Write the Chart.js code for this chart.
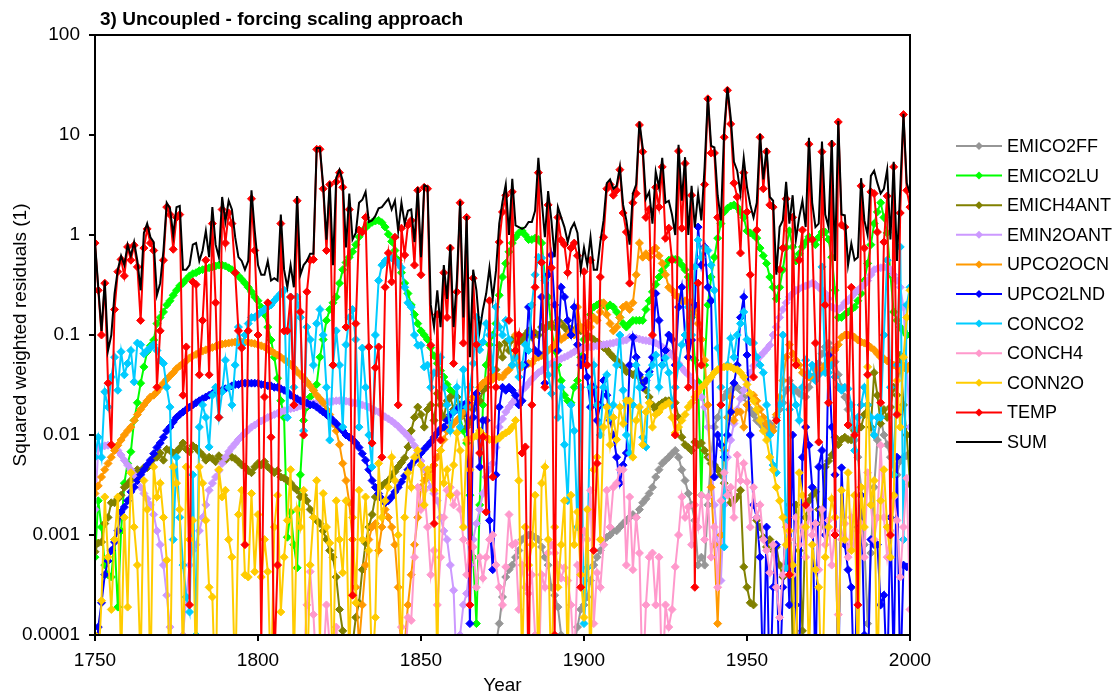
<!DOCTYPE html>
<html>
<head>
<meta charset="utf-8">
<title>Uncoupled - forcing scaling approach</title>
<script src="https://cdn.jsdelivr.net/npm/chart.js@4.4.1/dist/chart.umd.min.js"></script>
<style>
  html, body { margin: 0; padding: 0; background: #fff; }
  #wrap { width: 1120px; height: 700px; }
</style>
</head>
<body>
<div id="wrap"><canvas id="residualsChart" width="1120" height="700"></canvas></div>
<script>
// yearly squared weighted residuals, 1750-2000
const FIRST_YEAR = 1750;
const xTicks = [1750, 1800, 1850, 1900, 1950, 2000];
const yTicks = [0.0001, 0.001, 0.01, 0.1, 1, 10, 100];

// EMICO2FF only rises above the axis floor from 1872 on
const emico2ffStart = 1872;
const emico2ff = [
  0.00003, 0.00008, 0.00013, 0.00024, 0.00038, 0.00045, 0.0005, 0.0006,
  0.0007, 0.0009, 0.00095, 0.001, 0.001, 0.00095, 0.0009, 0.00076, 0.0006, 0.0005,
  0.0003, 0.00025, 0.00019, 0.0001, 0.00006, 0.00004, 0.00005, 0.00008, 0.00012, 0.00018,
  0.0002, 0.00024, 0.00035, 0.0005, 0.0006, 0.0007, 0.0008, 0.00095, 0.001, 0.0011,
  0.0011, 0.0012, 0.0013, 0.0014, 0.0015, 0.0016, 0.0015, 0.0018, 0.0021, 0.0023,
  0.0026, 0.003, 0.0038, 0.0045, 0.0052, 0.0056, 0.006, 0.0065, 0.007, 0.006,
  0.0045, 0.0035, 0.0026, 0.002, 0.0014, 0.0005, 0.0006, 0.0005, 0.002, 0.006,
  0.012, 0.015, 0.02, 0.024, 0.027, 0.028, 0.03, 0.03, 0.028, 0.024,
  0.02, 0.018, 0.016, 0.014, 0.013, 0.012, 0.011, 0.013, 0.012, 0.015,
  0.018, 0.021, 0.028, 0.035, 0.03, 0.028, 0.026, 0.025, 0.024, 0.03,
  0.038, 0.045, 0.052, 0.065, 0.076, 0.083, 0.07, 0.054, 0.04, 0.03,
  0.024, 0.018, 0.012, 0.0089, 0.006, 0.003, 0.0008, 0.00013, 0.00066, 0.003,
  0.0089, 0.015, 0.01, 0.008, 0.006, 0.005, 0.004, 0.0055, 0.006, 0.0062,
  0.0066
];

const emico2lu = [
  0.0006, 0.0022, 0.0012, 0.0005, 0.0004, 0.00038, 0.0009, 0.00019, 0.0011, 0.0033,
  0.0052, 0.0068, 0.014, 0.021, 0.033, 0.048, 0.068, 0.078, 0.089, 0.13,
  0.15, 0.17, 0.2, 0.22, 0.25, 0.28, 0.31, 0.33, 0.36, 0.39,
  0.41, 0.42, 0.44, 0.45, 0.46, 0.47, 0.48, 0.49, 0.5, 0.5,
  0.49, 0.47, 0.45, 0.42, 0.39, 0.36, 0.33, 0.3, 0.27, 0.24,
  0.22, 0.19, 0.16, 0.12, 0.089, 0.06, 0.037, 0.022, 0.015, 0.00095,
  0.0017, 0.0008, 0.00047, 0.004, 0.014, 0.019, 0.024, 0.028, 0.032, 0.06,
  0.09, 0.14, 0.18, 0.21, 0.24, 0.33, 0.45, 0.53, 0.6, 0.68,
  0.8, 0.96, 1.08, 1.18, 1.27, 1.34, 1.38, 1.4, 1.33, 1.2,
  1.02, 0.86, 0.7, 0.56, 0.42, 0.33, 0.26, 0.2, 0.16, 0.13,
  0.11, 0.1, 0.09, 0.075, 0.062, 0.052, 0.044, 0.038, 0.032, 0.028,
  0.026, 0.024, 0.015, 0.011, 0.0083, 0.0025, 0.0006, 0.00013, 0.002, 0.02,
  0.05, 0.08, 0.1, 0.13, 0.25, 0.38, 0.52, 0.68, 0.83, 0.95,
  1.05, 1.1, 1.0, 0.9, 0.9, 0.93, 0.9, 0.83, 0.38, 0.24,
  0.12, 0.07, 0.05, 0.035, 0.025, 0.022, 0.021, 0.03, 0.035, 0.06,
  0.09, 0.13, 0.16, 0.19, 0.2, 0.21, 0.2, 0.19, 0.2, 0.19,
  0.17, 0.15, 0.13, 0.12, 0.13, 0.14, 0.14, 0.14, 0.14, 0.18,
  0.22, 0.27, 0.32, 0.38, 0.44, 0.5, 0.56, 0.58, 0.57, 0.56,
  0.5, 0.45, 0.38, 0.15, 0.056, 0.034, 0.0025, 0.05, 0.2, 0.38,
  0.6, 0.93, 1.3, 1.7, 1.85, 1.95, 2.0, 1.9, 1.7, 1.5,
  1.1, 1.05, 1.0, 0.93, 0.74, 0.62, 0.52, 0.38, 0.3, 0.23,
  0.3, 0.45, 0.75, 1.1, 0.76, 0.55, 0.65, 0.76, 0.85, 0.96,
  0.9, 0.8, 0.95, 1.07, 1.07, 0.9, 0.6, 0.28, 0.15, 0.15,
  0.16, 0.17, 0.18, 0.19, 0.22, 0.26, 0.35, 0.52, 0.8, 1.3,
  1.7, 2.1, 1.5, 1.05, 0.4, 0.17, 0.14, 0.12, 0.11, 0.1,
  0.1
];

const emich4ant = [
  0.00068, 0.00083, 0.00085, 0.0013, 0.0015, 0.0021, 0.0021, 0.0023, 0.0025, 0.003,
  0.0032, 0.0035, 0.0038, 0.0045, 0.0042, 0.0047, 0.0047, 0.0052, 0.0058, 0.006,
  0.0066, 0.0056, 0.0072, 0.007, 0.0066, 0.0068, 0.0074, 0.0083, 0.0072, 0.0068,
  0.0078, 0.0074, 0.0068, 0.0063, 0.0056, 0.006, 0.0058, 0.0054, 0.0062, 0.0058,
  0.0056, 0.0062, 0.006, 0.0058, 0.0054, 0.005, 0.0048, 0.0044, 0.0042, 0.0048,
  0.0052, 0.005, 0.0054, 0.0048, 0.0045, 0.0042, 0.0044, 0.0038, 0.0037, 0.0035,
  0.0033, 0.003, 0.0028, 0.0024, 0.0025, 0.0022, 0.0018, 0.0015, 0.0014, 0.0013,
  0.0011, 0.0009, 0.0007, 0.0006, 0.00038, 0.00018, 0.00011, 0.00004, 0.00002, 0.00008,
  0.00015, 0.00021, 0.00045, 0.00083, 0.0012, 0.0016, 0.0024, 0.003, 0.0031, 0.0033,
  0.0035, 0.0038, 0.0043, 0.0048, 0.0053, 0.0059, 0.0076, 0.011, 0.015, 0.019,
  0.016, 0.012, 0.018, 0.02, 0.014, 0.026, 0.02, 0.015, 0.022, 0.024,
  0.018, 0.024, 0.02, 0.016, 0.012, 0.0135, 0.018, 0.025, 0.022, 0.028,
  0.03, 0.035, 0.04, 0.045, 0.079, 0.06, 0.085, 0.07, 0.09, 0.095,
  0.085, 0.09, 0.1, 0.11, 0.095, 0.105, 0.1, 0.12, 0.115, 0.125,
  0.13, 0.12, 0.14, 0.13, 0.12, 0.11, 0.115, 0.105, 0.12, 0.11,
  0.12, 0.1, 0.095, 0.09, 0.085, 0.08, 0.075, 0.071, 0.065, 0.06,
  0.056, 0.052, 0.048, 0.043, 0.042, 0.04, 0.042, 0.038, 0.033, 0.028,
  0.024, 0.02, 0.018, 0.02, 0.021, 0.022, 0.022, 0.021, 0.021, 0.015,
  0.0095, 0.008, 0.0075, 0.007, 0.0085, 0.008, 0.0083, 0.007, 0.006, 0.0052,
  0.005, 0.0045, 0.004, 0.0033, 0.0026, 0.0021, 0.0022, 0.0024, 0.0028, 0.00048,
  0.0003, 0.00021, 0.0002, 0.0014, 0.0012, 0.00095, 0.00076, 0.0009, 0.0007, 0.00076,
  0.0005, 0.00038, 0.0012, 0.002, 0.00008, 0.002, 0.0007, 0.00011, 0.0015, 0.0022,
  0.0025, 0.0027, 0.0018, 0.0013, 0.0048, 0.0055, 0.0063, 0.0095, 0.008, 0.009,
  0.0095, 0.009, 0.0089, 0.011, 0.0115, 0.012, 0.016, 0.02, 0.012, 0.042,
  0.025, 0.013, 0.018, 0.015, 0.019, 0.03, 0.025, 0.063, 0.02, 0.01,
  0.0032
];

const emin2oant = [
  0.0018, 0.0074, 0.0076, 0.0078, 0.0079, 0.0079, 0.0075, 0.007, 0.0063, 0.0056,
  0.005, 0.0045, 0.004, 0.0035, 0.003, 0.0026, 0.0023, 0.002, 0.0016, 0.0011,
  0.0008, 0.0005, 0.00025, 0.00012, 0.00005, 0.00003, 0.00005, 0.0001, 0.00024, 0.0005,
  0.0007, 0.0008, 0.0011, 0.0015, 0.002, 0.0028, 0.0033, 0.0038, 0.0044, 0.0052,
  0.006, 0.0068, 0.0075, 0.0082, 0.009, 0.0097, 0.0105, 0.0112, 0.012, 0.0126,
  0.0132, 0.0138, 0.0144, 0.015, 0.0155, 0.016, 0.0165, 0.017, 0.0175, 0.018,
  0.0183, 0.0186, 0.019, 0.0195, 0.02, 0.0202, 0.0205, 0.0207, 0.021, 0.021,
  0.021, 0.0213, 0.0215, 0.0217, 0.022, 0.022, 0.022, 0.0218, 0.0215, 0.021,
  0.0208, 0.0205, 0.02, 0.0195, 0.019, 0.018, 0.0175, 0.017, 0.016, 0.0152,
  0.0145, 0.0138, 0.013, 0.0122, 0.0113, 0.0105, 0.0097, 0.0089, 0.0078, 0.0066,
  0.0055, 0.0045, 0.0037, 0.003, 0.0026, 0.0022, 0.0015, 0.0011, 0.0009, 0.0005,
  0.00028, 0.00004, 0.0001, 0.0002, 0.00026, 0.0005, 0.0009, 0.0013, 0.0018, 0.0026,
  0.0038, 0.0045, 0.0052, 0.0075, 0.012, 0.0145, 0.017, 0.019, 0.021, 0.023,
  0.025, 0.028, 0.03, 0.033, 0.036, 0.039, 0.042, 0.044, 0.047, 0.05,
  0.052, 0.054, 0.056, 0.058, 0.06, 0.062, 0.065, 0.068, 0.071, 0.073,
  0.074, 0.075, 0.076, 0.077, 0.078, 0.079, 0.08, 0.081, 0.082, 0.083,
  0.085, 0.086, 0.088, 0.089, 0.095, 0.094, 0.093, 0.091, 0.089, 0.088,
  0.087, 0.085, 0.083, 0.08, 0.076, 0.072, 0.068, 0.063, 0.058, 0.052,
  0.047, 0.043, 0.04, 0.035, 0.032, 0.029, 0.024, 0.019, 0.012, 0.006,
  0.002, 0.0008, 0.00035, 0.002, 0.006, 0.0089, 0.013, 0.018, 0.023, 0.028,
  0.035, 0.042, 0.049, 0.056, 0.061, 0.066, 0.072, 0.079, 0.1, 0.12,
  0.15, 0.18, 0.21, 0.24, 0.26, 0.28, 0.29, 0.3, 0.31, 0.32,
  0.33, 0.32, 0.3, 0.28, 0.26, 0.23, 0.19, 0.185, 0.18, 0.19,
  0.21, 0.22, 0.24, 0.26, 0.28, 0.3, 0.32, 0.35, 0.4, 0.45,
  0.46, 0.47, 0.48, 0.47, 0.45, 0.4, 0.35, 0.3, 0.19, 0.05,
  0.012
];

const upco2ocn = [
  0.0026, 0.0031, 0.0038, 0.0045, 0.0052, 0.006, 0.007, 0.0079, 0.0089, 0.01,
  0.011, 0.012, 0.014, 0.016, 0.018, 0.02, 0.022, 0.024, 0.025, 0.027,
  0.03, 0.033, 0.036, 0.039, 0.042, 0.046, 0.049, 0.052, 0.055, 0.059,
  0.062, 0.064, 0.067, 0.069, 0.071, 0.073, 0.075, 0.077, 0.079, 0.081,
  0.082, 0.083, 0.084, 0.085, 0.085, 0.085, 0.085, 0.084, 0.083, 0.082,
  0.08, 0.078, 0.076, 0.072, 0.069, 0.066, 0.063, 0.06, 0.057, 0.054,
  0.051, 0.047, 0.043, 0.04, 0.037, 0.034, 0.031, 0.028, 0.025, 0.023,
  0.021, 0.018, 0.016, 0.013, 0.011, 0.008, 0.0052, 0.0035, 0.0021, 0.0009,
  0.0003, 0.00008, 0.0002, 0.0005, 0.0009, 0.0012, 0.0013, 0.0007, 0.0012, 0.0018,
  0.0015, 0.0012, 0.0008, 0.0003, 0.00005, 0.00008, 0.0002, 0.0004, 0.0008, 0.0015,
  0.003, 0.0035, 0.004, 0.0045, 0.005, 0.006, 0.007, 0.009, 0.011, 0.012,
  0.013, 0.014, 0.015, 0.017, 0.019, 0.021, 0.024, 0.026, 0.03, 0.033,
  0.035, 0.037, 0.036, 0.04, 0.038, 0.038, 0.042, 0.045, 0.05, 0.1,
  0.05, 0.048, 0.05, 0.052, 0.052, 0.058, 0.06, 0.062, 0.066, 0.07,
  0.074, 0.08, 0.13, 0.09, 0.095, 0.1, 0.11, 0.1, 0.19, 0.12,
  0.11, 0.13, 0.12, 0.15, 0.14, 0.17, 0.21, 0.16, 0.13, 0.11,
  0.12, 0.15, 0.19, 0.2, 0.18, 0.21, 0.4, 0.83, 0.6, 0.65,
  0.6, 0.7, 0.74, 0.62, 0.52, 0.4, 0.3, 0.28, 0.25, 0.24,
  0.22, 0.22, 0.21, 0.21, 0.18, 0.13, 0.09, 0.056, 0.02, 0.003,
  0.0008, 0.00013, 0.001, 0.007, 0.015, 0.024, 0.014, 0.017, 0.017, 0.012,
  0.02, 0.025, 0.025, 0.022, 0.018, 0.015, 0.013, 0.012, 0.011, 0.016,
  0.024, 0.035, 0.06, 0.08, 0.065, 0.056, 0.05, 0.042, 0.04, 0.038,
  0.038, 0.04, 0.045, 0.045, 0.05, 0.055, 0.06, 0.071, 0.08, 0.095,
  0.1, 0.1, 0.1, 0.095, 0.089, 0.085, 0.083, 0.08, 0.075, 0.071,
  0.065, 0.06, 0.058, 0.055, 0.052, 0.05, 0.048, 0.045, 0.05, 0.045,
  0.05
];

const upco2lnd = [
  0.00003, 0.00012, 0.00021, 0.0004, 0.00055, 0.0007, 0.00085, 0.0011, 0.0017, 0.0019,
  0.0022, 0.0027, 0.003, 0.0035, 0.004, 0.0045, 0.005, 0.0056, 0.0065, 0.0075,
  0.0083, 0.0095, 0.011, 0.012, 0.0135, 0.015, 0.016, 0.017, 0.018, 0.019,
  0.02, 0.021, 0.022, 0.023, 0.024, 0.025, 0.026, 0.027, 0.0275, 0.028,
  0.029, 0.03, 0.031, 0.032, 0.032, 0.033, 0.033, 0.033, 0.033, 0.033,
  0.033, 0.032, 0.032, 0.031, 0.031, 0.03, 0.03, 0.029, 0.028, 0.027,
  0.025, 0.024, 0.023, 0.022, 0.021, 0.021, 0.02, 0.02, 0.019, 0.018,
  0.017, 0.016, 0.015, 0.014, 0.013, 0.012, 0.011, 0.01, 0.0095, 0.009,
  0.0083, 0.0075, 0.0065, 0.0056, 0.0045, 0.0035, 0.003, 0.0026, 0.0023, 0.0021,
  0.0022, 0.0024, 0.0027, 0.003, 0.0034, 0.0039, 0.0045, 0.005, 0.0055, 0.006,
  0.0066, 0.0072, 0.0078, 0.0085, 0.0095, 0.0105, 0.0115, 0.012, 0.014, 0.016,
  0.017, 0.018, 0.019, 0.02, 0.021, 0.00013, 0.015, 0.026, 0.0048, 0.014,
  0.014, 0.0014, 0.00045, 0.004, 0.019, 0.03, 0.028, 0.03, 0.028, 0.025,
  0.02, 0.022, 0.05, 0.19, 0.1, 0.07, 0.066, 0.24, 0.033, 0.4,
  0.63, 0.2, 0.07, 0.3, 0.24, 0.14, 0.1, 0.19, 0.08, 0.05,
  0.06, 0.038, 0.019, 0.03, 0.014, 0.02, 0.035, 0.025, 0.014, 0.01,
  0.006, 0.0033, 0.005, 0.0066, 0.05, 0.095, 0.06, 0.04, 0.03, 0.035,
  0.043, 0.06, 0.26, 0.14, 0.05, 0.07, 0.1, 0.09, 0.05, 0.19,
  0.3, 0.1, 0.06, 0.089, 0.2, 1.2, 0.5, 0.76, 0.3, 0.22,
  0.0038, 0.01, 0.008, 0.006, 0.01, 0.017, 0.033, 0.05, 0.15, 0.24,
  0.063, 0.01, 0.002, 0.0015, 0.0006, 0.00003, 0.0012, 0.00002, 0.0003, 0.0008,
  0.00003, 0.0003, 0.0015, 0.0002, 0.01, 0.0002, 0.00004, 0.006, 0.012, 0.0079,
  0.003, 0.00003, 0.0048, 0.007, 0.001, 0.063, 0.012, 0.004, 0.00003, 0.0047,
  0.0008, 0.00045, 0.0003, 0.00002, 0.0012, 0.0025, 0.0001, 0.00003, 0.0009, 0.0008,
  0.0008, 0.0002, 0.00025, 0.00003, 0.0015, 0.00005, 0.006, 0.00003, 0.0005, 0.00048,
  0.0005
];

const conco2 = [
  0.006, 0.0095, 0.006, 0.027, 0.019, 0.038, 0.06, 0.028, 0.068, 0.04,
  0.052, 0.07, 0.034, 0.083, 0.08, 0.065, 0.07, 0.075, 0.08, 0.07,
  0.056, 0.052, 0.03, 0.019, 0.0009, 0.006, 0.0015, 0.0005, 0.00024, 0.00017,
  0.004, 0.0001, 0.012, 0.02, 0.015, 0.0076, 0.025, 0.03, 0.015, 0.027,
  0.056, 0.03, 0.02, 0.05, 0.12, 0.079, 0.1, 0.13, 0.15, 0.15,
  0.16, 0.17, 0.18, 0.19, 0.2, 0.22, 0.24, 0.26, 0.28, 0.015,
  0.24, 0.03, 0.24, 0.15, 0.011, 0.12, 0.09, 0.05, 0.13, 0.18,
  0.1, 0.03, 0.0089, 0.05, 0.11, 0.05, 0.012, 0.08, 0.15, 0.18,
  0.09, 0.012, 0.074, 0.03, 0.01, 0.0048, 0.1, 0.35, 0.5, 0.55,
  0.58, 0.59, 0.56, 0.52, 0.47, 0.3, 0.21, 0.19, 0.1, 0.079,
  0.079, 0.048, 0.05, 0.03, 0.042, 0.042, 0.06, 0.03, 0.02, 0.011,
  0.017, 0.03, 0.012, 0.045, 0.019, 0.03, 0.052, 0.15, 0.071, 0.085,
  0.13, 0.1, 0.045, 0.19, 0.12, 0.1, 0.14, 0.09, 0.05, 0.06,
  0.038, 0.05, 0.08, 0.07, 0.2, 0.4, 0.6, 0.59, 0.35, 0.04,
  0.026, 0.05, 0.015, 0.03, 0.008, 0.0022, 0.02, 0.011, 0.0012, 0.03,
  0.00013, 0.00047, 0.03, 0.05, 0.02, 0.01, 0.03, 0.04, 0.015, 0.02,
  0.05, 0.1, 0.028, 0.01, 0.0066, 0.02, 0.05, 0.03, 0.0095, 0.0076,
  0.04, 0.05, 0.063, 0.03, 0.05, 0.059, 0.042, 0.02, 0.03, 0.05,
  0.08, 0.1, 0.19, 0.1, 0.48, 0.89, 0.6, 0.74, 0.7, 0.5,
  0.28, 0.074, 0.03, 0.00076, 0.05, 0.093, 0.06, 0.1, 0.13, 0.17,
  0.09, 0.085, 0.083, 0.06, 0.05, 0.042, 0.02, 0.01, 0.005, 0.0042,
  0.02, 0.1, 0.00047, 0.018, 0.03, 0.02, 0.014, 0.03, 0.056, 0.04,
  0.05, 0.035, 0.04, 0.48, 0.042, 0.042, 0.05, 0.038, 0.03, 0.028,
  0.03, 0.029, 0.02, 0.007, 0.015, 0.02, 0.03, 0.02, 0.015, 0.01,
  0.015, 0.015, 0.1, 0.56, 0.03, 0.004, 0.05, 0.76, 0.0009, 0.2,
  0.3
];

// CONCH4 first shows near the axis floor in 1814
const conch4Start = 1814;
const conch4 = [
  0.00005, 0.0002, 0.00043, 0.00016, 0.00004, 0.00009,
  0.00005, 0.0002, 0.00008, 0.00003, 0.00012, 0.00005, 0.00002, 0.00006, 0.00003, 0.00008,
  0.00004, 0.00002, 0.00003, 0.00005, 0.00002, 0.00003, 0.00006, 0.00003, 0.00002, 0.00004,
  0.00003, 0.00006, 0.00004, 0.00008, 0.00012, 0.00005, 0.00015, 0.00014, 0.0006, 0.003,
  0.0018, 0.0028, 0.0012, 0.0004, 0.0007, 0.0002, 0.0006, 0.0015, 0.0028, 0.003,
  0.002, 0.0026, 0.0018, 0.0009, 0.0004, 0.00083, 0.00076, 0.0003, 0.0006, 0.00037,
  0.0006, 0.0009, 0.001, 0.0005, 0.0003, 0.0002, 0.00048, 0.0016, 0.0008, 0.00083,
  0.00018, 0.0005, 0.0003, 0.00026, 0.0004, 0.0001, 0.00003, 0.0004, 0.0003, 0.00066,
  0.0008, 0.00066, 0.0005, 0.00037, 0.00047, 0.00035, 0.0002, 0.00005, 0.0005, 0.0004,
  0.0011, 0.0009, 0.0028, 0.00013, 0.00042, 0.0003, 0.0008, 0.0028, 0.0012, 0.003,
  0.0033, 0.0045, 0.0045, 0.0005, 0.0024, 0.00045, 0.0015, 0.00066, 0.00003, 0.0002,
  0.0006, 0.00066, 0.0002, 0.0006, 0.00003, 0.0002, 0.00012, 0.00018, 0.00048, 0.001,
  0.0024, 0.0015, 0.0019, 0.0008, 0.002, 0.0012, 0.0025, 0.0009, 0.0024, 0.0006,
  0.0012, 0.0003, 0.0022, 0.0042, 0.0025, 0.003, 0.0015, 0.0063, 0.0035, 0.0052,
  0.0034, 0.0012, 0.003, 0.0015, 0.002, 0.0009, 0.0007, 0.00042, 0.0008, 0.0003,
  0.00015, 0.0004, 0.0012, 0.0009, 0.0004, 0.0015, 0.0008, 0.0012, 0.0006, 0.0018,
  0.001, 0.0013, 0.00045, 0.0018, 0.0008, 0.0014, 0.0005, 0.0011, 0.00016, 0.0009,
  0.0013, 0.0006, 0.0015, 0.0008, 0.0011, 0.0013, 0.0006, 0.0042, 0.002, 0.0009,
  0.0015, 0.0079, 0.0015, 0.0006, 0.0011, 0.0024, 0.0014, 0.00038, 0.0012, 0.0037,
  0.00018
];

const conn2o = [
  0.0001, 0.00005, 0.00022, 0.0024, 0.0006, 0.00018, 0.0009, 0.0024, 0.00005, 0.0015,
  0.00019, 0.0042, 0.0012, 0.0005, 0.00005, 0.0035, 0.0018, 0.00003, 0.0048, 0.0024,
  0.0033, 0.0015, 0.00056, 0.00003, 0.0048, 0.0033, 0.0018, 0.00005, 0.0048, 0.0009,
  0.0014, 0.00004, 0.0048, 0.0033, 0.0014, 0.0003, 0.00024, 0.00002, 0.0045, 0.0024,
  0.0028, 0.0009, 0.0006, 0.00003, 0.0016, 0.0028, 0.0004, 0.00038, 0.0026, 0.00043,
  0.0016, 0.00038, 0.0009, 0.00043, 0.00003, 0.0012, 0.0025, 0.00017, 0.0006, 0.0014,
  0.0045, 0.00005, 0.0018, 0.0012, 0.0028, 0.00003, 0.0005, 0.0015, 0.0035, 0.00008,
  0.0026, 0.0012, 0.00083, 0.00003, 0.0022, 0.0009, 0.00042, 0.0022, 0.00005, 0.0015,
  0.00021, 0.0028, 0.0009, 0.0024, 0.0007, 0.00004, 0.00015, 0.0052, 0.0015, 0.0022,
  0.003, 0.006, 0.0035, 0.001, 0.00006, 0.0015, 0.0042, 0.003, 0.006, 0.007,
  0.005, 0.002, 0.0045, 0.0038, 0.0028, 0.00005, 0.007, 0.0033, 0.0045, 0.0025,
  0.005, 0.0105, 0.007, 0.0012, 0.0089, 0.0045, 0.0095, 0.0098, 0.011, 0.01,
  0.0095, 0.009, 0.0089, 0.009, 0.0093, 0.01, 0.0105, 0.011, 0.012, 0.014,
  0.0035, 0.00005, 0.0012, 0.0005, 0.0008, 0.0025, 0.00004, 0.0033, 0.0048, 0.0009,
  0.00003, 0.0012, 0.0003, 0.0008, 0.0022, 0.00005, 0.0025, 0.0008, 0.0017, 0.0004,
  0.00015, 0.0018, 0.00004, 0.0045, 0.006, 0.0009, 0.012, 0.019, 0.008, 0.015,
  0.009, 0.019, 0.013, 0.022, 0.022, 0.006, 0.014, 0.019, 0.008, 0.017,
  0.021, 0.012, 0.016, 0.017, 0.019, 0.02, 0.021, 0.015, 0.0105, 0.012,
  0.014, 0.016, 0.019, 0.021, 0.024, 0.027, 0.03, 0.032, 0.035, 0.038,
  0.042, 0.045, 0.047, 0.048, 0.048, 0.048, 0.046, 0.045, 0.042, 0.038,
  0.032, 0.026, 0.022, 0.018, 0.014, 0.011, 0.0089, 0.006, 0.0045, 0.003,
  0.0022, 0.0015, 0.0008, 0.0011, 0.0005, 0.00003, 0.0042, 0.0025, 0.0012, 0.00006,
  0.0008, 0.00045, 0.0003, 0.00002, 0.0006, 0.0012, 0.0023, 0.0015, 0.00005, 0.0028,
  0.0009, 0.0042, 0.0007, 0.0025, 0.00004, 0.003, 0.0012, 0.048, 0.002, 0.0035,
  0.00003, 0.0022, 0.0045, 0.0012, 0.0006, 0.0025, 0.035, 0.012, 0.06, 0.15,
  0.28
];

const temp = [
  0.83, 0.28, 0.1, 0.33, 0.033, 0.008, 0.18, 0.43, 0.57, 0.39,
  0.76, 0.56, 0.79, 0.48, 0.14, 0.74, 1.15, 0.83, 0.7, 0.03,
  0.11, 0.56, 1.9, 1.6, 0.72, 1.5, 1.6, 0.025, 0.076, 0.0002,
  0.34, 0.32, 0.04, 0.14, 0.56, 0.04, 1.3, 0.21, 0.015, 1.8,
  0.83, 1.66, 1.3, 0.42, 0.11, 0.074, 0.0008, 0.11, 2.3, 0.7,
  0.1, 0.00008, 0.024, 0.21, 0.0095, 0.00005, 0.0005, 1.3, 0.11, 0.11,
  0.24, 0.02, 2.2, 0.17, 0.01, 0.27, 0.56, 0.57, 7.2, 7.2,
  2.9, 0.7, 3.2, 0.05, 3.4, 4.2, 3.0, 0.12, 1.8, 0.00025,
  0.13, 1.12, 1.07, 1.5, 0.076, 0.0083, 0.047, 0.076, 0.006, 0.3,
  0.66, 0.34, 0.95, 0.02, 1.17, 0.63, 1.26, 1.4, 0.5, 2.8,
  0.4, 3.0, 2.9, 0.079, 0.0013, 0.16, 0.0089, 0.42, 0.15, 0.74,
  0.052, 0.27, 2.1, 0.083, 1.5, 0.0002, 0.37, 0.08, 0.0066, 0.0095,
  0.0017, 0.22, 0.0038, 0.03, 0.85, 1.7, 2.5, 0.14, 2.7, 0.07,
  0.1, 0.0066, 0.0076, 0.00003, 0.02, 0.3, 4.2, 0.53, 0.03, 2.0,
  0.47, 0.0001, 1.5, 0.89, 0.8, 0.42, 0.74, 0.83, 0.62, 0.0003,
  0.43, 0.05, 0.56, 0.0007, 0.0052, 0.38, 0.95, 2.9, 3.2, 2.5,
  2.8, 4.5, 1.66, 1.07, 0.33, 2.1, 2.6, 12.6, 6.8, 1.5,
  1.8, 0.1, 3.0, 1.9, 4.8, 0.93, 1.17, 0.56, 0.01, 6.9,
  1.17, 5.2, 0.03, 2.5, 0.0003, 0.33, 0.05, 3.2, 23, 6.6,
  6.6, 1.5, 0.02, 9.5, 28, 12.9, 3.3, 2.4, 0.66, 4.2,
  1.7, 0.4, 0.038, 1.12, 9.5, 2.9, 6.8, 2.0, 1.9, 0.014,
  0.45, 0.74, 2.3, 0.0004, 1.5, 0.05, 0.56, 1.12, 0.002, 8.1,
  0.9, 0.083, 0.0085, 6.8, 0.2, 0.021, 8.1, 0.001, 13.5, 1.26,
  1.2, 0.0126, 0.3, 0.01, 0.0002, 3.1, 0.74, 0.04, 2.7, 2.6,
  1.07, 0.021, 0.85, 2.45, 0.001, 4.8, 0.016, 1.66, 16, 2.8,
  1.9
];

const sum = [
  0.85, 0.3, 0.11, 0.35, 0.07, 0.1, 0.26, 0.45, 0.62, 0.5,
  0.8, 0.62, 0.85, 0.55, 0.28, 1.05, 1.3, 0.95, 0.85, 0.25,
  0.33, 0.7, 2.1, 1.85, 1.0, 1.9, 1.95, 0.45, 0.45, 0.5,
  0.8, 0.83, 0.55, 0.7, 1.1, 0.6, 1.9, 0.8, 0.6, 2.4,
  1.36, 2.2, 1.8, 0.95, 0.6, 0.55, 0.45, 0.55, 2.8, 1.1,
  0.5, 0.4, 0.4, 0.55, 0.35, 0.37, 0.35, 1.6, 0.45, 0.3,
  0.5, 0.3, 2.45, 0.4, 0.5, 0.55, 0.65, 0.65, 7.4, 7.4,
  3.1, 0.9, 3.4, 0.5, 3.75, 4.5, 3.5, 0.75, 2.6, 0.9,
  1.05, 2.1, 2.25, 2.7, 1.35, 1.4, 1.55, 1.85, 1.9, 2.1,
  2.3, 1.8, 2.2, 1.1, 2.1, 1.3, 1.75, 1.8, 0.85, 3.0,
  0.6, 3.15, 3.05, 0.2, 0.12, 0.28, 0.12, 0.5, 0.23, 0.8,
  0.12, 0.35, 2.2, 0.15, 1.55, 0.06, 0.45, 0.28, 0.11, 0.18,
  0.26, 0.47, 0.23, 0.44, 1.3, 2.15, 3.2, 1.0, 3.65, 1.25,
  1.2, 1.15, 1.2, 1.35, 1.35, 1.75, 5.9, 2.3, 0.95, 2.75,
  1.4, 0.6, 1.9, 1.5, 1.2, 0.85, 1.15, 1.32, 1.05, 0.45,
  0.75, 0.5, 0.95, 0.45, 0.45, 0.85, 1.4, 3.3, 3.6, 2.9,
  3.1, 4.8, 2.0, 1.4, 0.8, 2.6, 3.2, 13.6, 7.5, 2.3,
  2.7, 1.3, 4.3, 3.0, 5.9, 2.1, 2.2, 1.6, 1.0, 8.0,
  2.2, 6.0, 1.0, 3.1, 1.2, 2.6, 1.4, 4.8, 24.5, 7.8,
  7.5, 2.5, 1.4, 11.3, 30, 15, 5.4, 4.4, 2.6, 5.9,
  3.0, 2.0, 1.5, 2.1, 10.3, 3.6, 7.4, 2.4, 2.2, 0.4,
  1.2, 1.4, 3.4, 1.3, 2.5, 0.9, 1.5, 2.2, 1.2, 9.4,
  2.1, 1.2, 1.3, 8.6, 1.6, 1.2, 8.9, 0.55, 13.8, 1.6,
  1.57, 0.5, 0.82, 0.56, 0.6, 3.7, 1.4, 1.0, 3.9, 4.4,
  3.3, 2.6, 2.9, 4.5, 0.9, 5.4, 0.55, 2.85, 16.3, 3.3,
  2.6
];

// legend order; later entries are drawn on top
const series = [
  { name: 'EMICO2FF', values: emico2ff, start: emico2ffStart, color: '#969696', marker: true },
  { name: 'EMICO2LU', values: emico2lu, start: FIRST_YEAR, color: '#00FF00', marker: true },
  { name: 'EMICH4ANT', values: emich4ant, start: FIRST_YEAR, color: '#808000', marker: true },
  { name: 'EMIN2OANT', values: emin2oant, start: FIRST_YEAR, color: '#CC99FF', marker: true },
  { name: 'UPCO2OCN', values: upco2ocn, start: FIRST_YEAR, color: '#FF9900', marker: true },
  { name: 'UPCO2LND', values: upco2lnd, start: FIRST_YEAR, color: '#0000FF', marker: true },
  { name: 'CONCO2', values: conco2, start: FIRST_YEAR, color: '#00CCFF', marker: true },
  { name: 'CONCH4', values: conch4, start: conch4Start, color: '#FF99CC', marker: true },
  { name: 'CONN2O', values: conn2o, start: FIRST_YEAR, color: '#FFCC00', marker: true },
  { name: 'TEMP', values: temp, start: FIRST_YEAR, color: '#FF0000', marker: true },
  { name: 'SUM', values: sum, start: FIRST_YEAR, color: '#000000', marker: false }
];

const FONT = '"Liberation Sans", Arial, sans-serif';
Chart.defaults.font.family = FONT;
Chart.defaults.font.size = 19;
Chart.defaults.color = '#000';

function toPoints(values, start) {
  return values.map((v, i) => ({ x: start + i, y: v }));
}

function diamond(ctx, x, y, r) {
  ctx.beginPath();
  ctx.moveTo(x, y - r);
  ctx.lineTo(x + r, y);
  ctx.lineTo(x, y + r);
  ctx.lineTo(x - r, y);
  ctx.closePath();
  ctx.fill();
}

// box round the plot area
const plotFrame = {
  id: 'plotFrame',
  afterDatasetsDraw(chart) {
    const { ctx, chartArea: a } = chart;
    ctx.save();
    ctx.strokeStyle = '#000';
    ctx.lineWidth = 2;
    ctx.strokeRect(a.left, a.top, a.right - a.left, a.bottom - a.top);
    ctx.restore();
  }
};

// title at top left and the legend column on the right
const titleAndLegend = {
  id: 'titleAndLegend',
  afterDraw(chart) {
    const ctx = chart.ctx;
    ctx.save();
    ctx.fillStyle = '#000';
    ctx.textBaseline = 'alphabetic';
    ctx.font = 'bold 19px ' + FONT;
    ctx.fillText('3) Uncoupled - forcing scaling approach', 100, 25);

    ctx.font = '18px ' + FONT;
    ctx.textBaseline = 'middle';
    series.forEach((s, i) => {
      const y = 146 + i * 29.6;
      ctx.strokeStyle = s.color;
      ctx.lineWidth = 2;
      ctx.beginPath();
      ctx.moveTo(956, y);
      ctx.lineTo(1002, y);
      ctx.stroke();
      if (s.marker) {
        ctx.fillStyle = s.color;
        diamond(ctx, 979, y, 4);
      }
      ctx.fillStyle = '#000';
      ctx.fillText(s.name, 1007, y + 1);
    });
    ctx.restore();
  }
};

new Chart(document.getElementById('residualsChart'), {
  type: 'line',
  data: {
    datasets: series.map((s, i) => ({
      label: s.name,
      data: toPoints(s.values, s.start),
      borderColor: s.color,
      backgroundColor: s.color,
      borderWidth: 2,
      pointStyle: s.marker ? 'rectRot' : false,
      pointRadius: s.marker ? 4 : 0,
      pointBorderWidth: 1,
      pointBorderColor: s.color,
      tension: 0,
      order: series.length - 1 - i
    }))
  },
  options: {
    responsive: false,
    animation: false,
    events: [],
    layout: { padding: { left: 0, top: 35, right: 210, bottom: 0 } },
    plugins: {
      legend: { display: false },
      tooltip: { enabled: false }
    },
    scales: {
      x: {
        type: 'linear',
        min: 1750,
        max: 2000,
        afterFit: (scale) => { scale.height = 65; },
        afterBuildTicks: (scale) => { scale.ticks = xTicks.map(v => ({ value: v })); },
        grid: { drawOnChartArea: false, drawTicks: true, tickLength: 6, color: '#000', lineWidth: 2 },
        border: { display: false },
        ticks: { autoSkip: false, maxRotation: 0, padding: 8, callback: (v) => String(v) },
        title: { display: true, text: 'Year', padding: { top: 0, bottom: 3 } }
      },
      y: {
        type: 'logarithmic',
        min: 0.0001,
        max: 100,
        afterFit: (scale) => { scale.width = 95; },
        afterBuildTicks: (scale) => { scale.ticks = yTicks.map(v => ({ value: v })); },
        grid: { drawOnChartArea: false, drawTicks: true, tickLength: 6, color: '#000', lineWidth: 2 },
        border: { display: false },
        ticks: { autoSkip: false, padding: 9, callback: (v) => String(v) },
        title: { display: true, text: 'Squared weighted residuals (1)', padding: { top: 9, bottom: 0 } }
      }
    }
  },
  plugins: [plotFrame, titleAndLegend]
});
</script>
</body>
</html>
